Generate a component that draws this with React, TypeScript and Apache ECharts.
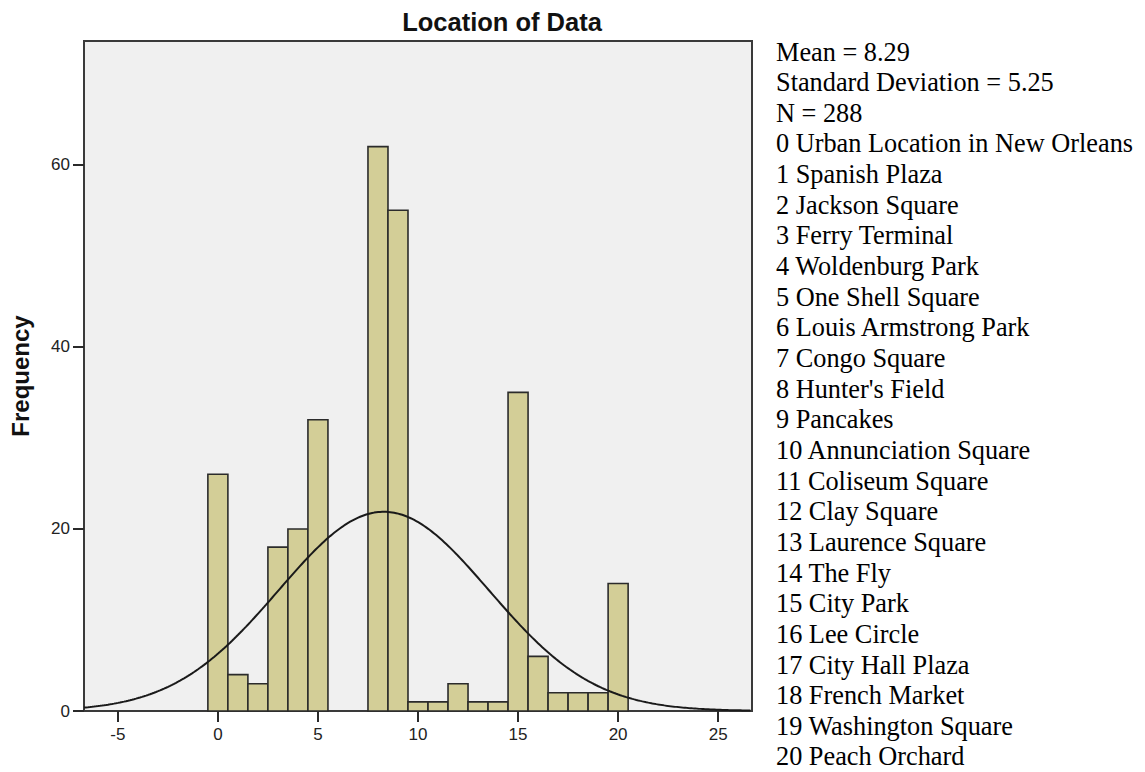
import React, { useEffect, useRef } from "react";
import * as echarts from "echarts";

const binCenters = [0, 1, 2, 3, 4, 5, 6, 7, 8, 9, 10, 11, 12, 13, 14, 15, 16, 17, 18, 19, 20];
const frequencies = [26, 4, 3, 18, 20, 32, 0, 0, 62, 55, 1, 1, 3, 1, 1, 35, 6, 2, 2, 2, 14];
const locationNames = [
  "0 Urban Location in New Orleans",
  "1 Spanish Plaza",
  "2 Jackson Square",
  "3 Ferry Terminal",
  "4 Woldenburg Park",
  "5 One Shell Square",
  "6 Louis Armstrong Park",
  "7 Congo Square",
  "8 Hunter's Field",
  "9 Pancakes",
  "10 Annunciation Square",
  "11 Coliseum Square",
  "12 Clay Square",
  "13 Laurence Square",
  "14 The Fly",
  "15 City Park",
  "16 Lee Circle",
  "17 City Hall Plaza",
  "18 French Market",
  "19 Washington Square",
  "20 Peach Orchard",
];
const meanValue = 8.29;
const sdValue = 5.25;
const nValue = 288;
const xTicks = [-5, 0, 5, 10, 15, 20, 25];
const yTicks = [0, 20, 40, 60];
const xMin = -6.69;
const xMax = 26.69;
const yMax = 73.6;

export default function App() {
  const ref = useRef<HTMLDivElement>(null);
  useEffect(() => {
    if (!ref.current) return;
    const chart = echarts.init(ref.current, undefined, { renderer: "svg" });
    const barData = binCenters.map((c, i) => [c, frequencies[i]]).filter((d) => d[1] > 0);
    const curve: number[][] = [];
    const coef = nValue / (sdValue * Math.sqrt(2 * Math.PI));
    for (let x = xMin; x <= xMax + 1e-9; x += 0.1) {
      const z = (x - meanValue) / sdValue;
      curve.push([x, coef * Math.exp(-0.5 * z * z)]);
    }
    const statLines = [
      `Mean = ${meanValue}`,
      `Standard Deviation = ${sdValue}`,
      `N = ${nValue}`,
      ...locationNames,
    ];
    chart.setOption({
      animation: false,
      title: {
        text: "Location of Data",
        left: 497,
        top: 4,
        textAlign: "center",
        textStyle: { fontFamily: "Liberation Sans", fontWeight: "bold", fontSize: 25.5, color: "#111" },
      },
      grid: {
        left: 82,
        top: 41,
        width: 670,
        height: 670,
        show: true,
        backgroundColor: "#f0f0f0",
        borderColor: "#3a3a3a",
        borderWidth: 2,
      },
      xAxis: {
        type: "value",
        min: xMin,
        max: xMax,
        splitLine: { show: false },
        axisLine: { show: true, onZero: false, lineStyle: { color: "#3a3a3a", width: 2 } },
        axisTick: { show: true, length: 11, lineStyle: { color: "#2a2a2a", width: 2 }, customValues: xTicks },
        axisLabel: { customValues: xTicks, margin: 15, fontFamily: "Liberation Sans", fontSize: 17, color: "#222" },
      },
      yAxis: {
        type: "value",
        min: 0,
        max: yMax,
        name: "Frequency",
        nameLocation: "middle",
        nameGap: 52,
        nameTextStyle: { fontFamily: "Liberation Sans", fontWeight: "bold", fontSize: 24, color: "#111" },
        splitLine: { show: false },
        axisLine: { show: true, onZero: false, lineStyle: { color: "#3a3a3a", width: 2 } },
        axisTick: { show: true, length: 11, lineStyle: { color: "#2a2a2a", width: 2 }, customValues: yTicks },
        axisLabel: { customValues: yTicks, margin: 14, fontFamily: "Liberation Sans", fontSize: 17, color: "#222" },
      },
      series: [
        {
          type: "custom",
          data: barData,
          renderItem: (params: any, api: any) => {
            const c = api.value(0);
            const v = api.value(1);
            const p0 = api.coord([c - 0.5, 0]);
            const p1 = api.coord([c + 0.5, v]);
            return {
              type: "rect",
              shape: { x: p0[0], y: p1[1], width: p1[0] - p0[0], height: p0[1] - p1[1] },
              style: { fill: "#d3ce97", stroke: "#2b2b2b", lineWidth: 1.6 },
            };
          },
          z: 2,
        },
        {
          type: "line",
          data: curve,
          showSymbol: false,
          symbol: "none",
          lineStyle: { color: "#1a1a1a", width: 2 },
          z: 3,
        },
      ],
      graphic: statLines.map((t, i) => ({
        type: "text",
        x: 776,
        y: 52 + i * 30.65,
        style: { text: t, font: "26.3px 'Liberation Serif'", fill: "#000", verticalAlign: "middle" },
      })),
    });
    return () => chart.dispose();
  }, []);
  return <div ref={ref} style={{ position: "absolute", left: 0, top: 0, width: 1145, height: 772 }} />;
}
